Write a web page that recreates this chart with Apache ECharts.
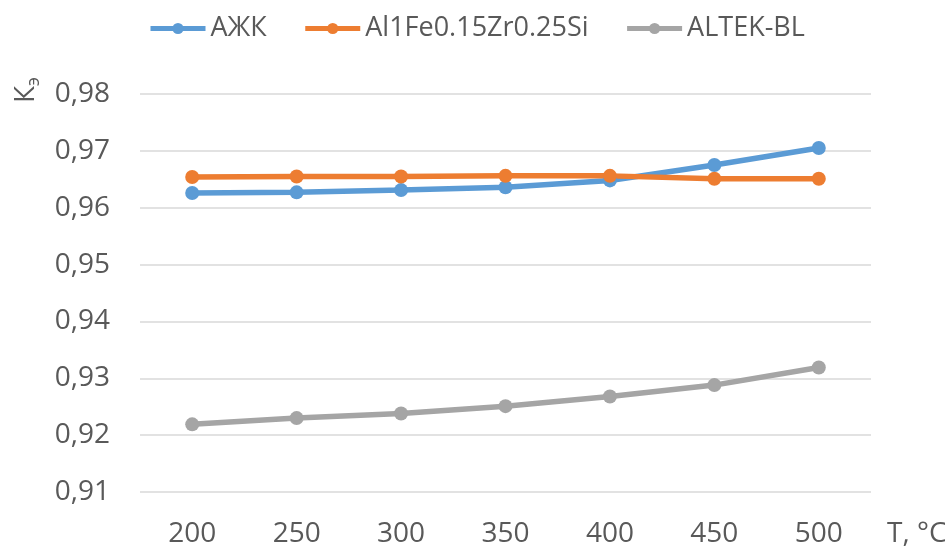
<!DOCTYPE html>
<html><head><meta charset="utf-8">
<script src="https://cdn.jsdelivr.net/npm/echarts@6/dist/echarts.min.js"></script>
<style>html,body{margin:0;padding:0;background:#fff}#c{width:945px;height:547px}</style>
</head><body><div id="c"></div>
<script>
const categories = ['200','250','300','350','400','450','500'];
const seriesNames = ['АЖК','Al1Fe0.15Zr0.25Si','ALTEK-BL'];
const azhk = [0.9626, 0.9627, 0.9631, 0.9636, 0.9648, 0.9675, 0.9705];
const alfe = [0.9654, 0.9655, 0.9655, 0.9656, 0.9656, 0.9651, 0.9651];
const altek = [0.9219, 0.9230, 0.9238, 0.9251, 0.9268, 0.9288, 0.9319];
const yMin = 0.91, yMax = 0.98, yStep = 0.01;
const colors = ['#5B9BD5','#ED7D31','#A5A5A5'];
const FONT = 'Open Sans';
const txt = '#595959';

const chart = echarts.init(document.getElementById('c'));
const mk = (name, data, color) => ({
  name, type: 'line', data, color,
  symbol: 'circle', symbolSize: 14,
  lineStyle: {width: 5.5, color}, itemStyle: {color},
  animation: false
});
chart.setOption({
  animation: false,
  textStyle: {fontFamily: FONT},
  grid: {left: 140, right: 74, top: 94, bottom: 55, containLabel: false, outerBoundsMode: 'none'},
  legend: {
    top: 10, left: 143, itemWidth: 55, itemHeight: 14, itemGap: 36,
    lineStyle: {width: 5},
    textStyle: {fontFamily: FONT, fontSize: 27, color: txt},
    data: seriesNames
  },
  xAxis: {
    type: 'category', data: categories, boundaryGap: true,
    axisLine: {show: false}, axisTick: {show: false},
    axisLabel: {fontSize: 28, color: txt, fontFamily: FONT, margin: 28},
    name: 'T, °C', nameLocation: 'end', nameGap: 16,
    nameTextStyle: {fontSize: 28, color: txt, fontFamily: FONT, verticalAlign: 'top', padding: [28,0,0,0]}
  },
  yAxis: {
    type: 'value', min: yMin, max: yMax, interval: yStep,
    axisLine: {show: false}, axisTick: {show: false},
    splitLine: {lineStyle: {color: '#d9d9d9', width: 1.5}},
    axisLabel: {fontSize: 28, color: txt, fontFamily: FONT, margin: 30,
      formatter: v => v.toFixed(2).replace('.', ',')}
  },
  graphic: [{
    type: 'text', x: 26, y: 90, rotation: Math.PI/2,
    style: {
      text: 'К{s|э}', fill: txt, font: '28px "Open Sans"',
      textAlign: 'center', textVerticalAlign: 'middle',
      rich: {s: {fontSize: 18, fontFamily: FONT, fill: txt, padding: [16,0,0,0]}}
    }
  }],
  series: [mk(seriesNames[0], azhk, colors[0]), mk(seriesNames[1], alfe, colors[1]), mk(seriesNames[2], altek, colors[2])]
});
</script></body></html>
